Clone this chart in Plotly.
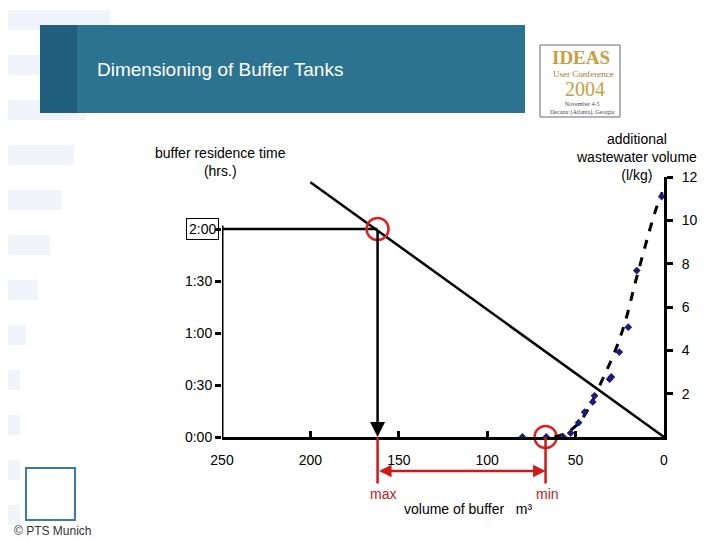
import plotly.graph_objects as go

# data
line_x = [200, 0]
line_y = [147, 0]  # minutes
pts_x = [80.1, 66.6, 57.0, 52.8, 48.3, 44.9, 40.3, 39.3, 30.8, 29.8, 25.3, 20.2, 15.4, 1.3]
pts_y = [0, 0, 0, 0.18, 0.66, 1.15, 1.62, 1.9, 2.67, 2.77, 3.92, 5.07, 7.68, 11.1]
curve_x = [62, 56, 50, 45, 40, 34, 28, 22, 16, 10, 5, 1]
curve_y = [0, 0.15, 0.5, 1.0, 1.75, 2.8, 3.9, 5.3, 7.2, 9.0, 10.4, 11.3]
max_x, min_x, sel_t = 162, 67, 120
x_ticks = [250, 200, 150, 100, 50, 0]
t_ticks = [0, 30, 60, 90, 120]
t_text = ["0:00", "0:30", "1:00", "1:30", ""]
v_ticks = [2, 4, 6, 8, 10, 12]

O = 8  # page offset
L, T, W, H = 222, 177, 442, 260
def px(x): return (x - L) / W
def py(y): return (T + H - y) / H

fig = go.Figure()
fig.add_trace(go.Scatter(x=[250, 250], y=[0, 122], mode="lines", line=dict(color="black", width=3), showlegend=False))
fig.add_trace(go.Scatter(x=line_x, y=line_y, mode="lines", line=dict(color="black", width=2.5), showlegend=False))
fig.add_trace(go.Scatter(x=[250, max_x], y=[sel_t, sel_t], mode="lines", line=dict(color="black", width=2.5), showlegend=False))
fig.add_trace(go.Scatter(x=curve_x, y=curve_y, yaxis="y2", mode="lines", line=dict(color="black", width=3, dash="dash", shape="spline"), showlegend=False))
fig.add_trace(go.Scatter(x=pts_x, y=pts_y, yaxis="y2", mode="markers", marker=dict(symbol="diamond", color="#1a1a80", size=6), showlegend=False))
fig.add_trace(go.Scatter(x=[max_x], y=[sel_t], mode="markers", marker=dict(symbol="circle-open", color="#e02020", size=22, line=dict(width=2.5)), showlegend=False, cliponaxis=False))
fig.add_trace(go.Scatter(x=[min_x], y=[0], mode="markers", marker=dict(symbol="circle-open", color="#e02020", size=22, line=dict(width=2.5)), showlegend=False, cliponaxis=False))

shapes = []
for i in range(12):
    shapes.append(dict(type="rect", xref="paper", yref="paper", x0=px(0), x1=px(max(20, 110 - i * 12)), y0=py(i * 45 + 30), y1=py(i * 45 + 10),
                       fillcolor="#e8eff8", opacity=0.6, line_width=0, layer="below"))
shapes.append(dict(type="rect", xref="paper", yref="paper", x0=px(40), x1=px(525), y0=py(113), y1=py(25), fillcolor="#2b7391", line_width=0))
shapes.append(dict(type="rect", xref="paper", yref="paper", x0=px(40), x1=px(77), y0=py(113), y1=py(25), fillcolor="#1f5e7c", line_width=0))
shapes.append(dict(type="rect", xref="paper", yref="paper", x0=px(540), x1=px(620), y0=py(117), y1=py(45), fillcolor="white", line=dict(color="#667", width=1)))
shapes.append(dict(type="rect", xref="paper", yref="paper", x0=px(26), x1=px(75), y0=py(520), y1=py(468), fillcolor="white", line=dict(color="#3a7ab0", width=2)))

ann = []
ann.append(dict(x=max_x, y=0, ax=max_x, ay=sel_t, xref="x", yref="y", axref="x", ayref="y", text="", showarrow=True,
                arrowhead=2, arrowsize=1.2, arrowwidth=2.5, arrowcolor="black"))
for xv in (max_x, min_x):
    ann.append(dict(x=xv, y=0, xref="x", yref="paper", ax=0, ay=48, text="", showarrow=True, arrowhead=0, arrowwidth=2.5, arrowcolor="#d01818"))
ann.append(dict(x=min_x, y=py(471), xref="x", yref="paper", ax=max_x, ay=0, axref="x", ayref="pixel", text="", showarrow=True,
                arrowhead=2, startarrowhead=2, arrowside="end+start", arrowwidth=2.5, arrowcolor="#d01818"))
ann.append(dict(x=px(219), y=sel_t, xref="paper", yref="y", text="2:00", showarrow=False, xanchor="right", bordercolor="black", borderwidth=1, borderpad=2,
                font=dict(size=14, color="black")))
def txt(x, y, t, size=14, color="black", family=None, xanchor="center"):
    f = dict(size=size, color=color)
    if family:
        f["family"] = family
    ann.append(dict(x=px(x), y=py(y), xref="paper", yref="paper", text=t, showarrow=False, xanchor=xanchor, yanchor="middle", font=f))
txt(220, 162, "buffer residence time<br>(hrs.)")
txt(636, 157, "additional<br>wastewater volume<br>(l/kg)")
txt(383, 494, "max", color="#c02020")
txt(547, 494, "min", color="#c02020")
txt(468, 509, "volume of buffer   m³")
txt(95, 70, "Dimensioning of Buffer Tanks", size=19, color="white", xanchor="left")
txt(581, 57, "<b>IDEAS</b>", size=19, color="#c8a040", family="Liberation Serif")
txt(583, 74, "User Conference", size=9, color="#a07d28", family="Liberation Serif")
txt(585, 89, "2004", size=20, color="#c8a040", family="Liberation Serif")
txt(582, 108, "November 4-5<br>Decatur (Atlanta), Georgia", size=6, color="#444", family="Liberation Serif")
txt(12, 531, "© PTS Munich", size=12, color="#333", xanchor="left")

font = dict(family="Liberation Sans, Arial", size=14, color="black")
fig.update_layout(
    width=720 - O, height=540 - O, margin=dict(l=L - O, r=720 - L - W, t=T - O, b=540 - T - H),
    paper_bgcolor="white", plot_bgcolor="rgba(0,0,0,0)", font=font, showlegend=False,
    xaxis=dict(range=[250, 0], tickvals=x_ticks, showgrid=False, zeroline=False, showline=True, linecolor="black", linewidth=3,
               ticks="inside", ticklen=6, tickwidth=3, tickcolor="black", ticklabelstandoff=8),
    yaxis=dict(range=[0, 150], tickvals=t_ticks, ticktext=t_text, showgrid=False, zeroline=False, showline=False,
               ticks="outside", ticklen=6, tickwidth=3, tickcolor="black"),
    yaxis2=dict(range=[0, 12], overlaying="y", side="right", tickvals=v_ticks, showgrid=False, zeroline=False, showline=True,
                linecolor="black", linewidth=3, ticks="outside", ticklen=6, tickwidth=3, tickcolor="black", ticklabelstandoff=6),
    shapes=shapes, annotations=ann,
)
fig.write_html("out.html")
